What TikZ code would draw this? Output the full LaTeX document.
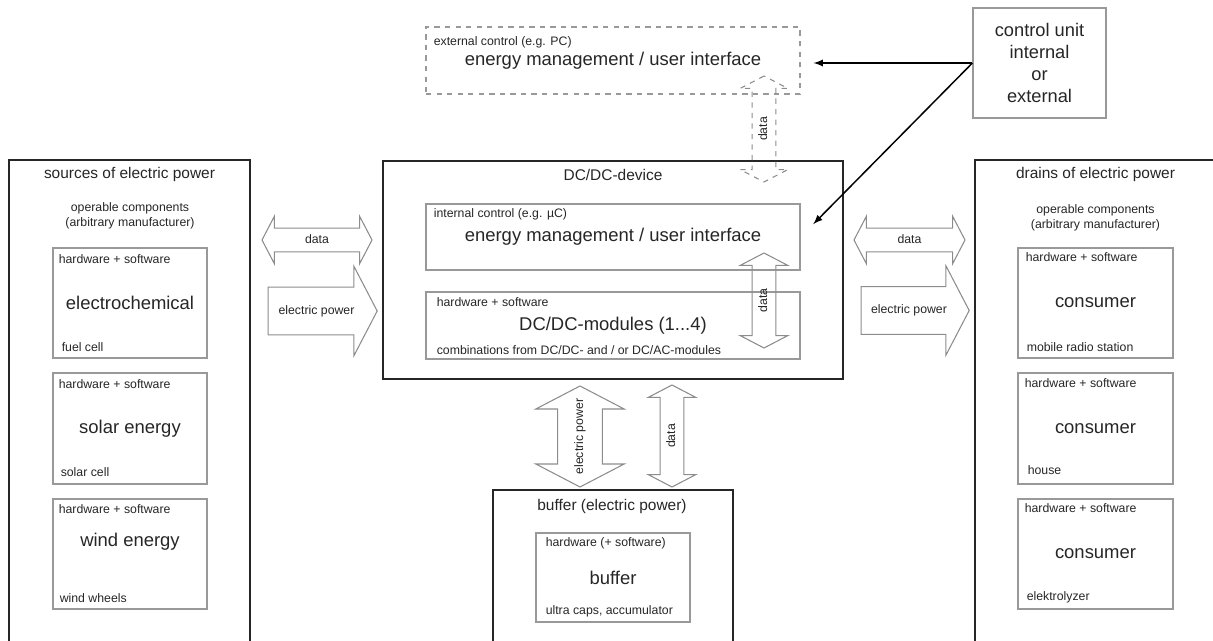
\documentclass[tikz,border=0pt]{standalone}
\usepackage{fontspec}
\setmainfont{Liberation Sans}
\usepackage{tikz}
\usetikzlibrary{calc}
\usetikzlibrary{positioning}
\usetikzlibrary{shapes.arrows}
\usetikzlibrary{arrows}

\definecolor{boxgray}{gray}{0.6}
\definecolor{arrowgray}{gray}{0.55}
\definecolor{textdark}{gray}{0.15}

\tikzset{
	frame/.style={draw=textdark, line width=1.1pt, inner sep=0pt},
	partbox/.style={draw=boxgray, line width=0.7pt, inner sep=0pt, text=textdark, font=\fontsize{10.5}{12.6}\selectfont},
	mainlabel/.style={font=\fontsize{10.5}{12.6}\selectfont, text=textdark, inner sep=0pt},
	boxtitle/.style={font=\fontsize{8.8}{10.5}\selectfont, text=textdark, inner sep=0pt},
	smalllabel/.style={font=\fontsize{7}{8.5}\selectfont, text=textdark, inner sep=0pt},
	blockarrow/.style={draw=arrowgray, line width=0.6pt, font=\fontsize{7}{8}\selectfont, text=textdark, text height=5pt, text depth=1.5pt, inner xsep=0pt},
	dataarrow/.style={blockarrow, double arrow, double arrow tip angle=125, double arrow head extend=6.8pt, inner ysep=3.25pt},
	powerarrow/.style={blockarrow, single arrow, single arrow tip angle=125, single arrow head extend=11.9pt, inner ysep=10pt},
	powerboth/.style={blockarrow, double arrow, double arrow tip angle=125, double arrow head extend=12.4pt, inner ysep=9.2pt},
	ctrlline/.style={->, >=latex, draw=black, line width=0.85pt}
}

\begin{document}
\begin{tikzpicture}[x=0.02cm, y=-0.02cm]
	\path[use as bounding box, clip] (0,0) rectangle (1213,641);
	
	% sources of electric power
	\node[frame, minimum width=4.82cm, minimum height=10.8cm] (src) at (129.5,430) {};
	\node[boxtitle] (srctitle) at (129.5,175) {sources of electric power};
	\node[smalllabel, align=center] (srcop) at (130,215.5) {operable components\\(arbitrary manufacturer)};
	\node[partbox, minimum width=3.08cm, minimum height=2.2cm] (src1) at (130,303) {electrochemical};
	\node[partbox, minimum width=3.08cm, minimum height=2.22cm] (src2) at (130,428.5) {solar energy};
	\node[partbox, minimum width=3.08cm, minimum height=2.2cm] (src3) at (130,554) {};
	\node[mainlabel] (src3main) at (130,542) {wind energy};
	\node[smalllabel, anchor=west] at ($(src1.north west)+(6,12)$) {hardware + software};
	\node[smalllabel, anchor=west] at ($(src2.north west)+(6,12)$) {hardware + software};
	\node[smalllabel, anchor=west] at ($(src3.north west)+(6,11)$) {hardware + software};
	\node[smalllabel, anchor=west] at ($(src1.south west)+(9,-11)$) {fuel cell};
	\node[smalllabel, anchor=west] at ($(src2.south west)+(8,-12)$) {solar cell};
	\node[smalllabel, anchor=west] at ($(src3.south west)+(7,-12)$) {wind wheels};
	
	% DC/DC-device
	\node[frame, minimum width=9.2cm, minimum height=4.36cm] (dcdc) at (613,270) {};
	\node[boxtitle] (dcdctitle) at (613,175) {DC/DC-device};
	\node[partbox, minimum width=7.48cm, minimum height=1.32cm] (intctl) at (613,237) {energy management / user interface};
	\node[smalllabel, anchor=west] at ($(intctl.north west)+(8,11)$) {internal control (e.g. µC)};
	\node[partbox, minimum width=7.48cm, minimum height=1.34cm] (modules) at (613,325.5) {DC/DC-modules (1...4)};
	\node[smalllabel, anchor=west] at ($(modules.north west)+(11,11)$) {hardware + software};
	\node[smalllabel, anchor=west] at ($(modules.south west)+(11,-10)$) {combinations from DC/DC- and / or DC/AC-modules};
	
	% external control
	\node[partbox, dashed, minimum width=7.48cm, minimum height=1.34cm] (extctl) at (613,60.5) {energy management / user interface};
	\node[smalllabel, anchor=west] at ($(extctl.north west)+(8,16)$) {external control (e.g. PC)};
	
	% control unit
	\node[partbox, align=center, font=\fontsize{10.4}{12.6}\selectfont, minimum width=2.66cm, minimum height=2.2cm] (ctrl) at (1039.5,63) {control unit\\internal\\or\\external};
	
	% drains of electric power
	\node[frame, minimum width=5.3cm, minimum height=10.8cm] (drn) at (1107.5,430) {};
	\node[boxtitle] (drntitle) at (1095.5,175) {drains of electric power};
	\node[smalllabel, align=center] (drnop) at (1095.5,217.5) {operable components\\(arbitrary manufacturer)};
	\node[partbox, minimum width=3.1cm, minimum height=2.2cm] (drn1) at (1095.5,303) {consumer};
	\node[partbox, minimum width=3.1cm, minimum height=2.22cm] (drn2) at (1095.5,428.5) {consumer};
	\node[partbox, minimum width=3.1cm, minimum height=2.2cm] (drn3) at (1095.5,554) {consumer};
	\node[smalllabel, anchor=west] at ($(drn1.north west)+(8,10)$) {hardware + software};
	\node[smalllabel, anchor=west] at ($(drn2.north west)+(7,11)$) {hardware + software};
	\node[smalllabel, anchor=west] at ($(drn3.north west)+(7,10)$) {hardware + software};
	\node[smalllabel, anchor=west] at ($(drn1.south west)+(9,-11)$) {mobile radio station};
	\node[smalllabel, anchor=west] at ($(drn2.south west)+(10,-14)$) {house};
	\node[smalllabel, anchor=west] at ($(drn3.south west)+(9,-12)$) {elektrolyzer};
	
	% buffer
	\node[frame, minimum width=4.8cm, minimum height=4.2cm] (buf) at (613,595) {};
	\node[boxtitle] (buftitle) at (612,507) {buffer (electric power)};
	\node[partbox, minimum width=3.08cm, minimum height=1.78cm] (bufin) at (613,577.5) {buffer};
	\node[smalllabel, anchor=west] at ($(bufin.north west)+(10,11)$) {hardware (+ software)};
	\node[smalllabel, anchor=west] at ($(bufin.south west)+(10,-11)$) {ultra caps, accumulator};
	
	% block arrows
	\node[dataarrow, minimum height=2.2cm] (srcdata) at (317,240) {data};
	\node[powerarrow, minimum height=2.18cm] (srcpower) at (316.5,311) {electric power};
	\node[dataarrow, minimum height=2.22cm] (drndata) at (909.5,240) {data};
	\node[powerarrow, minimum height=2.16cm] (drnpower) at (909,310.5) {electric power};
	\node[powerboth, rotate=90, minimum height=2.02cm] (bufpower) at (580,436.5) {electric power};
	\node[dataarrow, rotate=90, minimum height=2.04cm] (bufdata) at (672,436) {data};
	\node[dataarrow, rotate=90, minimum height=1.9cm] (intdata) at (764,300.5) {data};
	\node[dataarrow, dashed, rotate=90, minimum height=2.12cm] (extdata) at (764,129) {data};
	
	% control connections
	\draw[ctrlline, shorten >=0.26cm] (ctrl.west) -- (ctrl.west -| extctl.east);
	\draw[ctrlline, shorten >=0.36cm] (ctrl.west) -- (intctl.east);
\end{tikzpicture}
\end{document}
